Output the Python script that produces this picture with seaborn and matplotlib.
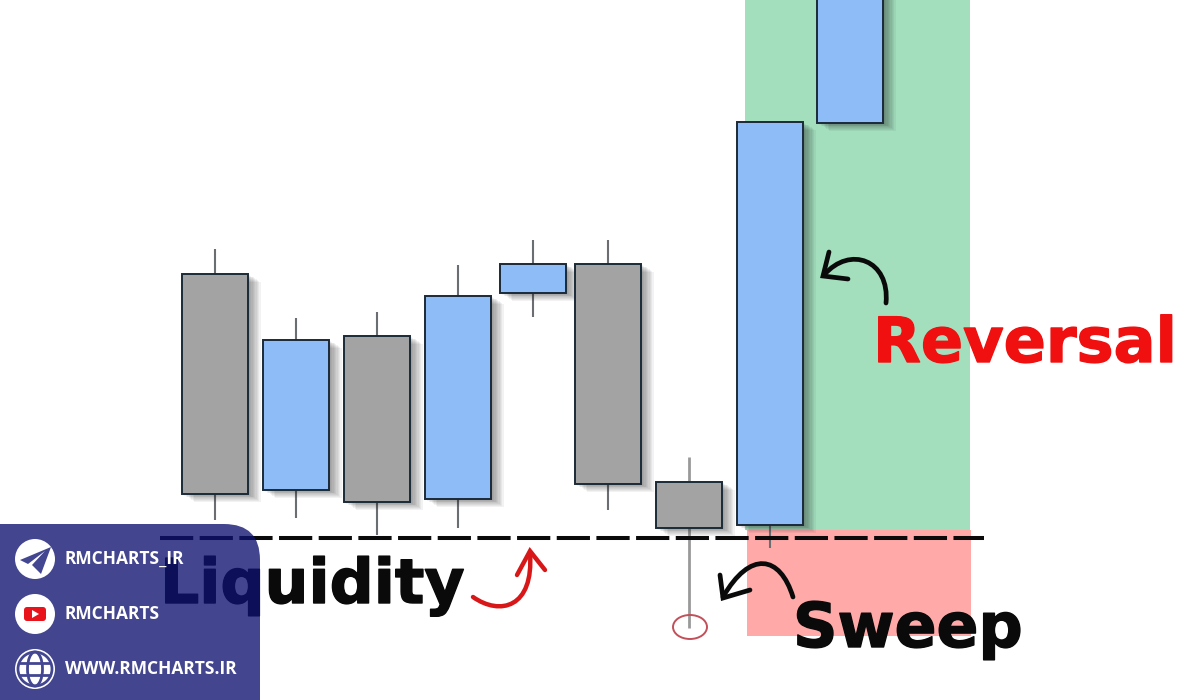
import numpy as np
import pandas as pd
import matplotlib
matplotlib.use('Agg')
import matplotlib.pyplot as plt
import matplotlib.patheffects as pe
from matplotlib.patches import FancyBboxPatch, Ellipse, Circle, Rectangle, Polygon, PathPatch
from matplotlib.path import Path
import seaborn as sns

# candles, values (price axis runs 0-700 bottom to top)
centers = [215, 296, 377, 458, 533, 608, 689, 770, 850]
opens = [426, 210, 364, 201, 407, 436, 218, 175, 577]
closes = [206, 360, 198, 404, 436, 216, 172, 578, 712]
highs = [451, 382, 388, 435, 460, 460, 243, 578, 712]
lows = [180, 182, 165, 172, 383, 190, 72, 152, 577]

liquidity_level = 162
green_zone = [745, 970, 170, 700]
red_zone = [747, 971, 64, 170]

BLUE = '#8DBCF6'
GRAY = '#A3A3A3'
EDGE = '#1B2A38'
PANEL = (14 / 255, 18 / 255, 111 / 255, 0.78)

sns.set_theme(style='white')
plt.rcParams['font.family'] = ['DejaVu Sans']

df = pd.DataFrame({'x': centers, 'open': opens, 'close': closes})
df['bottom'] = df[['open', 'close']].min(axis=1)
df['height'] = (df['close'] - df['open']).abs()

fig = plt.figure(figsize=(12, 7), dpi=100)
ax = fig.add_axes([0, 0, 1, 1])

# zones behind everything
ax.add_patch(Rectangle((green_zone[0], green_zone[2]), green_zone[1] - green_zone[0],
                       green_zone[3] - green_zone[2], fc='#A3DFBD', ec='none', zorder=0))
ax.add_patch(Rectangle((red_zone[0], red_zone[2]), red_zone[1] - red_zone[0],
                       red_zone[3] - red_zone[2], fc='#FFA9A9', ec='none', zorder=0))

# wicks
for i in range(len(centers)):
    wick_col = '#999999' if i == 6 else '#6A6E72'
    ax.vlines(centers[i], lows[i], highs[i], color=wick_col, lw=2 if i == 6 else 1.5, zorder=1)

sns.barplot(data=df, x='x', y='height', bottom=df['bottom'].values, native_scale=True,
            width=0.89, errorbar=None, color=GRAY, saturation=1, ax=ax, zorder=2,
            edgecolor=EDGE, linewidth=1.4)

soft_shadow = [pe.SimplePatchShadow(offset=(o, -o * 0.6), shadow_rgbFace='k', alpha=0.055)
               for o in (9, 8, 7, 6, 5, 4, 3, 2, 1)] + [pe.Normal()]
for patch, o, c in zip(ax.patches[2:], opens, closes):
    patch.set_facecolor(BLUE if c > o else GRAY)
    patch.set_path_effects(soft_shadow)

ax.plot([160, 984], [liquidity_level, liquidity_level], color='#0A0A0A', lw=2.9,
        linestyle=(0, (8.25, 1.6)), zorder=3)


def arrow(pts, head, color, lw):
    codes = [Path.MOVETO, Path.CURVE4, Path.CURVE4, Path.CURVE4]
    ax.add_patch(PathPatch(Path(pts, codes), fc='none', ec=color, lw=lw, capstyle='round', zorder=5))
    ax.plot([p[0] for p in head], [p[1] for p in head], color=color, lw=lw,
            solid_capstyle='round', solid_joinstyle='miter', zorder=5)


arrow([(473, 103), (500, 84), (534, 92), (530, 147)], [(517, 125), (530, 149), (545, 130)], '#D81818', 3.2)
arrow([(886, 397), (890, 440), (850, 455), (824, 425)], [(829, 448), (823, 424), (848, 421)], '#0A0A0A', 3.4)
arrow([(793, 103), (780, 145), (750, 150), (723, 103)], [(720, 125), (723, 102), (750, 110)], '#0A0A0A', 3.4)

ax.add_patch(Ellipse((690, 73), 34, 24, fc='none', ec='#C2505A', lw=1.4, zorder=4))

heavy = [pe.withStroke(linewidth=1.0, foreground='#0A0A0A')]
heavy_red = [pe.withStroke(linewidth=1.0, foreground='#F01010')]
ax.text(160, 97, 'Liquidity', fontsize=44.4, fontweight='bold', color='#0A0A0A', va='baseline',
        zorder=5, path_effects=heavy)
ax.text(793, 53, 'Sweep', fontsize=44.5, fontweight='bold', color='#0A0A0A', va='baseline',
        zorder=5, path_effects=heavy)
ax.text(873, 338, 'Reversal', fontsize=44.8, fontweight='bold', color='#F01010', va='baseline',
        zorder=5, path_effects=heavy_red)

# contact panel in the lower left
ax.add_patch(FancyBboxPatch((-60, -60), 320, 236, boxstyle='round,pad=0,rounding_size=36',
                            fc=PANEL, ec='none', zorder=6))

icon_y = [141, 86, 31]
labels = ['RMCHARTS_IR', 'RMCHARTS', 'WWW.RMCHARTS.IR']
for yy, lab in zip(icon_y, labels):
    ax.add_patch(Circle((35, yy), 20, fc='white', ec='none', zorder=7))
    ax.text(65, yy, lab, color='white', fontsize=12.5, fontweight='bold', va='center', zorder=7,
            family=['Open Sans', 'DejaVu Sans'])

# telegram
ax.add_patch(Polygon([(20, 140), (51, 153), (41, 126), (32, 135), (45, 149), (28, 136)],
                     fc='#434690', ec='none', zorder=8))
# youtube
ax.add_patch(FancyBboxPatch((24, 79), 22, 14, boxstyle='round,pad=0,rounding_size=3', fc='#E9141B', ec='none', zorder=8))
ax.add_patch(Polygon([(32, 82), (32, 90), (39, 86)], fc='white', ec='none', zorder=9))
# globe
ax.add_patch(Circle((35, 31), 17, fc='none', ec='#434690', lw=2, zorder=8))
ax.add_patch(Ellipse((35, 31), 15, 34, fc='none', ec='#434690', lw=2, zorder=8))
ax.hlines([25, 37], 19, 51, color='#434690', lw=2, zorder=8)

ax.set_xlim(0, 1200)
ax.set_ylim(0, 700)
ax.axis('off')
fig.patch.set_facecolor('white')
fig.savefig('out.png', dpi=100)
